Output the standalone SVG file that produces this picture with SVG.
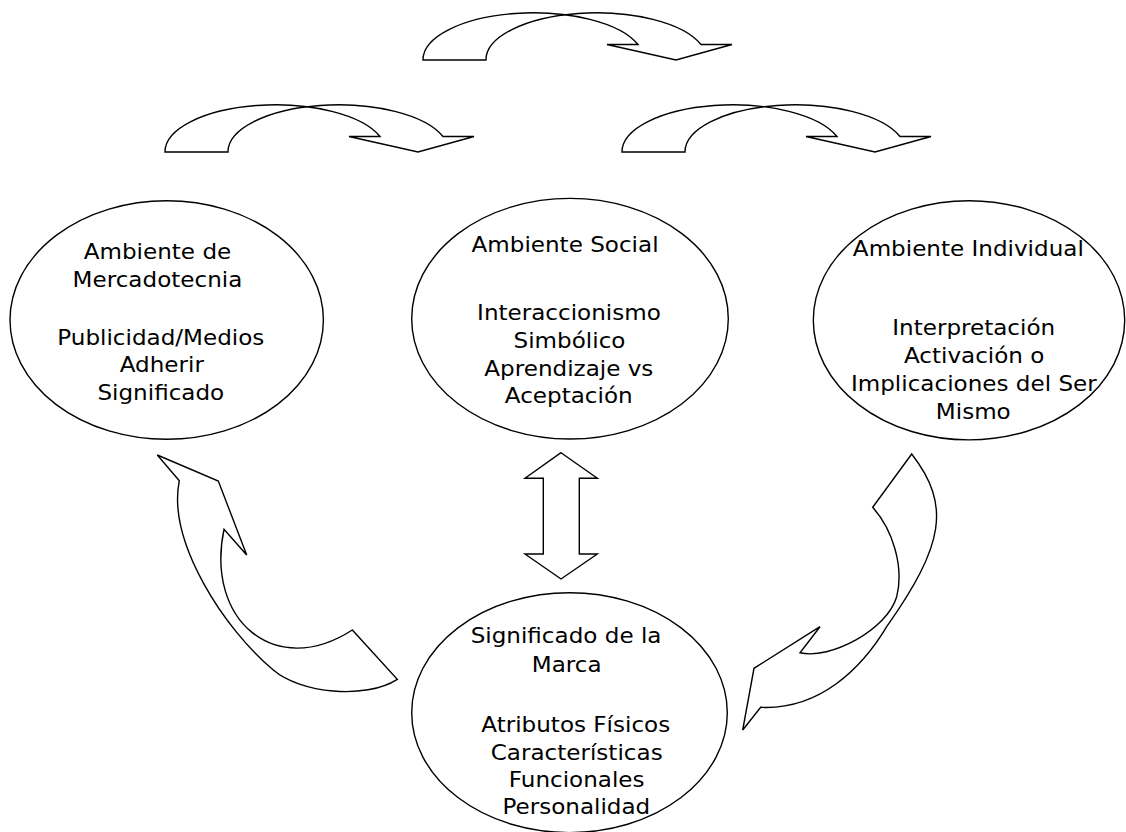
<svg xmlns="http://www.w3.org/2000/svg" width="1126" height="832" viewBox="0 0 1126 832">
<defs>
<style>
.shape{fill:#fff;stroke:#000;stroke-width:1.4;stroke-linejoin:miter}
.t{font-family:"DejaVu Sans","Liberation Sans",sans-serif;font-size:20.6px;fill:#000;text-anchor:middle}
</style>
<path id="curveDown" d="M0 0 A110.5 47 0 0 1 215 -15.5 L184 -15.5 L253 0 L309 -15.5 L278 -15.5 A110.5 47 0 0 0 63 0 Z"/>
</defs>
<rect width="1126" height="832" fill="#fff"/>
<g id="connectors">
<use href="#curveDown" class="shape" transform="translate(423,60)"/>
<use href="#curveDown" class="shape" transform="translate(165,152)"/>
<use href="#curveDown" class="shape" transform="translate(622,152)"/>
<path class="shape" d="M561 452.7 L597.3 478.3 L579.3 478.3 L579.3 554 L597.3 554 L561 579 L525 554 L543.3 554 L543.3 478.3 L525 478.3 Z"/>
<path class="shape" d="M157.3 455 L218.3 481 L246.7 555 L224 529.3 C205 620 275 680 352.3 630 L397.3 679.3 C365 700 300 693 273.3 670 C225 630 167 542 179.3 480.7 Z"/>
<path class="shape" d="M911.7 454 L872.7 507.3 C892.8 529.8 904.2 566.7 896.7 596.7 C887 630 830 660 800 652.7 L820 626.7 L754 668.3 L742.7 730 L760.7 707.3 C820 710 862 668 886.7 626.7 C944 545 951.4 505.4 911.7 454 Z"/>
</g>
<g id="node-mercadotecnia">
<ellipse class="shape" cx="166.7" cy="320" rx="156.7" ry="119.3"/>
<g transform="scale(1.12,1)">
<text class="t" x="140.6" y="259">Ambiente de</text>
<text class="t" x="140.6" y="286.7">Mercadotecnia</text>
<text class="t" x="143.6" y="345">Publicidad/Medios</text>
<text class="t" x="144.5" y="372.3">Adherir</text>
<text class="t" x="143.6" y="400">Significado</text>
</g>
</g>
<g id="node-social">
<ellipse class="shape" cx="570" cy="318.7" rx="158.3" ry="120.3"/>
<g transform="scale(1.12,1)">
<text class="t" x="504.5" y="252.3">Ambiente Social</text>
<text class="t" x="508" y="320">Interaccionismo</text>
<text class="t" x="508.5" y="347.7">Simbólico</text>
<text class="t" x="507.9" y="375.7">Aprendizaje vs</text>
<text class="t" x="507.8" y="403.3">Aceptación</text>
</g>
</g>
<g id="node-individual">
<ellipse class="shape" cx="969" cy="320.3" rx="155.7" ry="119.6"/>
<g transform="scale(1.12,1)">
<text class="t" x="864.6" y="256">Ambiente Individual</text>
<text class="t" x="869.4" y="335">Interpretación</text>
<text class="t" x="869.8" y="362.7">Activación o</text>
<text class="t" x="869.5" y="390.7">Implicaciones del Ser</text>
<text class="t" x="869" y="419.3">Mismo</text>
</g>
</g>
<g id="node-marca">
<ellipse class="shape" cx="569.5" cy="712.7" rx="157.8" ry="120"/>
<g transform="scale(1.12,1)">
<text class="t" x="505.4" y="643.3">Significado de la</text>
<text class="t" x="506" y="671.7">Marca</text>
<text class="t" x="514.1" y="731.7">Atributos Físicos</text>
<text class="t" x="514.9" y="760">Características</text>
<text class="t" x="514.9" y="787.3">Funcionales</text>
<text class="t" x="514.6" y="814">Personalidad</text>
</g>
</g>
</svg>
